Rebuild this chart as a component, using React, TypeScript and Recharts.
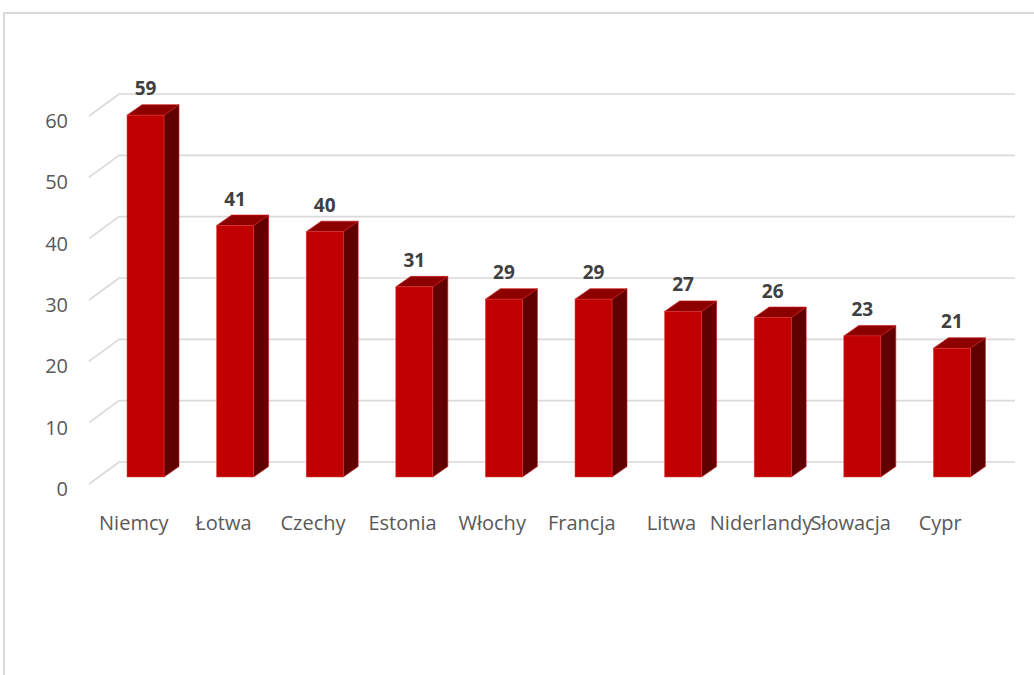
import { BarChart, Bar, XAxis, YAxis, CartesianGrid, LabelList } from "recharts";

const countries = ["Niemcy", "Łotwa", "Czechy", "Estonia", "Włochy", "Francja", "Litwa", "Niderlandy", "Słowacja", "Cypr"];
const values = [59, 41, 40, 31, 29, 29, 27, 26, 23, 21];
const yTicks = [0, 10, 20, 30, 40, 50, 60];

const data = countries.map((name, i) => ({ name, value: values[i] }));

// depth of the 3D back wall and of the bars
const WALL_DX = 30;
const WALL_DY = 22;
const BAR_DX = 15;
const BAR_DY = 10.5;
const BAR_SHIFT_X = 12;
const BAR_SHIFT_Y = 7;

const gridLine = (props: any) => {
  const { x1, y1, x2 } = props;
  return (
    <path
      key={`grid-${y1}`}
      d={`M${x1},${y1} L${x1 + WALL_DX},${y1 - WALL_DY} L${x2 + WALL_DX},${y1 - WALL_DY}`}
      stroke="#d9d9d9"
      strokeWidth={1.6}
      fill="none"
    />
  );
};

const Box3D = (props: any) => {
  const { x, y, width, height } = props;
  if (height == null || height <= 0) return null;
  const fx = x + BAR_SHIFT_X;
  const fy = y - BAR_SHIFT_Y;
  const w = width;
  const h = height;
  return (
    <g>
      <polygon
        points={`${fx + w},${fy} ${fx + w + BAR_DX},${fy - BAR_DY} ${fx + w + BAR_DX},${fy + h - BAR_DY} ${fx + w},${fy + h}`}
        fill="#600000"
        stroke="#d01818"
        strokeWidth={0.6}
      />
      <polygon
        points={`${fx},${fy} ${fx + BAR_DX},${fy - BAR_DY} ${fx + w + BAR_DX},${fy - BAR_DY} ${fx + w},${fy}`}
        fill="#8c0000"
        stroke="#d01818"
        strokeWidth={0.6}
      />
      <rect x={fx} y={fy} width={w} height={h} fill="#c00000" stroke="#e04040" strokeWidth={0.5} />
    </g>
  );
};

const valueLabel = (props: any) => {
  const { x, y, width, value } = props;
  return (
    <text
      x={x + width / 2 + BAR_SHIFT_X}
      y={y - BAR_SHIFT_Y - 20}
      textAnchor="middle"
      fill="#404040"
      fontSize={19}
      fontWeight={700}
      fontFamily="'Open Sans', sans-serif"
    >
      {value}
    </text>
  );
};

const XTick = (props: any) => {
  const { x, payload } = props;
  return (
    <text x={x} y={530} textAnchor="middle" fill="#595959" fontSize={20} fontFamily="'Open Sans', sans-serif">
      {payload.value}
    </text>
  );
};

const YTick = (props: any) => {
  const { y, payload } = props;
  return (
    <text x={68} y={y + 12} textAnchor="end" fill="#595959" fontSize={20} fontFamily="'Open Sans', sans-serif">
      {payload.value}
    </text>
  );
};

export default function App() {
  return (
    <div style={{ position: "fixed", left: 0, top: 0, width: 1034, height: 675, overflow: "hidden", background: "#fff" }}>
      <div
        style={{
          position: "absolute",
          left: 3,
          top: 12,
          width: 1100,
          height: 720,
          borderLeft: "2px solid #d9d9d9",
          borderTop: "2px solid #d9d9d9",
        }}
      />
      <div style={{ position: "absolute", left: 0, top: 0 }}>
        <BarChart
          width={1034}
          height={675}
          data={data}
          margin={{ top: 116, right: 49, left: 0, bottom: 151 }}
          barSize={37}
        >
          <CartesianGrid vertical={false} horizontal={gridLine} />
          <XAxis dataKey="name" axisLine={false} tickLine={false} height={40} tick={<XTick />} interval={0} />
          <YAxis
            domain={[0, 60]}
            ticks={yTicks}
            width={89}
            axisLine={false}
            tickLine={false}
            tick={<YTick />}
          />
          <Bar dataKey="value" shape={<Box3D />} isAnimationActive={false}>
            <LabelList dataKey="value" content={valueLabel} />
          </Bar>
        </BarChart>
      </div>
    </div>
  );
}
